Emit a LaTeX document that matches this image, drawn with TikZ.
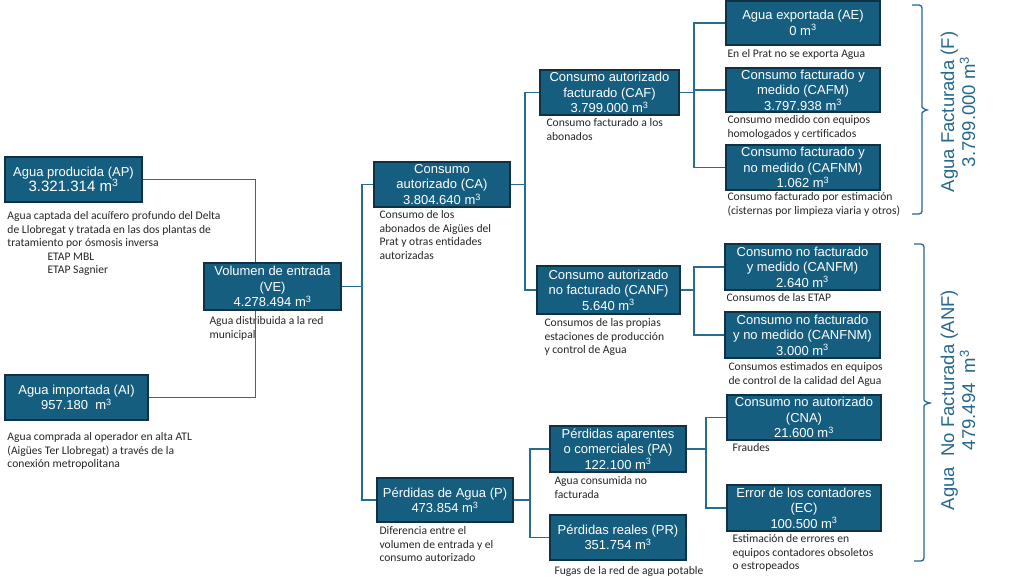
\documentclass[tikz,border=0pt]{standalone}
\usepackage{fontspec}
\setmainfont{Liberation Sans}
\newfontfamily\descfont{Carlito}
\usepackage{xcolor}
\usetikzlibrary{positioning}

\definecolor{boxfill}{RGB}{22,94,128}
\definecolor{boxline}{RGB}{16,48,68}
\definecolor{linkcol}{RGB}{40,108,145}
\definecolor{bracecol}{RGB}{36,104,142}

\newcommand{\mcub}{m\textsuperscript{3}}

\begin{document}
\begin{tikzpicture}[x=1pt,y=-1pt,node distance=6pt]
    % looks of the boxes, notes and links
    \tikzstyle{box}=[rectangle,draw=boxline,line width=1.4pt,fill=boxfill,
    text=white,align=center,inner sep=0pt,font=\fontsize{13}{15.4}\selectfont]
    \tikzstyle{note}=[inner sep=0pt,align=left,text=black!85,
    font=\descfont\fontsize{11.6}{13.4}\selectfont]
    \tikzstyle{link}=[draw=linkcol,line width=1.3pt]
    \tikzstyle{brc}=[draw=bracecol,line width=1.3pt]
    \tikzstyle{total}=[rotate=90,align=center,text=bracecol,inner sep=0pt,
    font=\fontsize{18.5}{21}\selectfont]

    \useasboundingbox (0,0) rectangle (1013,585);

    % sources
    \node [box,minimum width=137,minimum height=45] (ap) at (73.5,179.5)
      {Agua producida (AP)\\{\fontsize{15}{16.5}\selectfont 3.321.314 \mcub}};
    \node [box,minimum width=143,minimum height=45] (ai) at (76.5,397.5)
      {Agua importada (AI)\\957.180~~\mcub};
    \node [box,minimum width=137,minimum height=47] (ve) at (272.5,286.5)
      {Volumen de entrada\\(VE)\\4.278.494 \mcub};

    % authorised consumption
    \node [box,minimum width=136,minimum height=45] (ca) at (442,184.5)
      {Consumo\\autorizado (CA)\\3.804.640 \mcub};
    \node [box,minimum width=139,minimum height=45] (caf) at (609.5,92.5)
      {Consumo autorizado\\facturado (CAF)\\3.799.000 \mcub};
    \node [box,minimum width=143,minimum height=48] (canf) at (608.5,290)
      {Consumo autorizado\\no facturado (CANF)\\5.640 \mcub};
    \node [box,minimum width=154,minimum height=44] (ae) at (803,23)
      {Agua exportada (AE)\\0 \mcub};
    \node [box,minimum width=154,minimum height=44] (cafm) at (803,90)
      {Consumo facturado y\\medido (CAFM)\\3.797.938 \mcub};
    \node [box,minimum width=154,minimum height=45] (cafnm) at (803,167.5)
      {Consumo facturado y\\no medido (CAFNM)\\1.062 \mcub};
    \node [box,minimum width=155,minimum height=46] (canfm) at (802.5,267)
      {Consumo no facturado\\y medido (CANFM)\\2.640 \mcub};
    \node [box,minimum width=155,minimum height=46] (canfnm) at (802.5,335)
      {Consumo no facturado\\y no medido (CANFNM)\\3.000 \mcub};

    % losses
    \node [box,minimum width=136,minimum height=44] (p) at (445,500)
      {P\'erdidas de Agua (P)\\473.854 \mcub};
    \node [box,minimum width=136,minimum height=46] (pa) at (618,449)
      {P\'erdidas aparentes\\o comerciales (PA)\\122.100 \mcub};
    \node [box,minimum width=136,minimum height=45] (pr) at (618,537.5)
      {P\'erdidas reales (PR)\\351.754 \mcub};
    \node [box,minimum width=154,minimum height=45] (cna) at (804,417.5)
      {Consumo no autorizado\\(CNA)\\21.600 \mcub};
    \node [box,minimum width=154,minimum height=46] (ec) at (804,508)
      {Error de los contadores\\(EC)\\100.500 \mcub};

    % notes under the boxes
    \node [note,below right=9pt and 3pt of ap.south west] (apnote)
      {Agua captada del acu\'ifero profundo del Delta\\
       de Llobregat y tratada en las dos plantas de\\
       tratamiento por \'osmosis inversa\\
       \hspace*{40pt}ETAP MBL\\
       \hspace*{40pt}ETAP Sagnier};
    \node [note,below right=6pt and 6pt of ve.south west] (venote)
      {Agua distribuida a la red\\municipal};
    \node [note,below right=12pt and 3pt of ai.south west] (ainote)
      {Agua comprada al operador en alta ATL\\
       (Aig\"ues Ter Llobregat) a trav\'es de la\\
       conexi\'on metropolitana};
    \node [note,below right=3pt and 6pt of ca.south west] (canote)
      {Consumo de los\\abonados de Aig\"ues del\\Prat y otras entidades\\autorizadas};
    \node [note,below right=3pt and 7pt of caf.south west] (cafnote)
      {Consumo facturado a los\\abonados};
    \node [note,below right=4pt and 8pt of canf.south west] (canfnote)
      {Consumos de las propias\\estaciones de producci\'on\\y control de Agua};
    \node [note,below right=4pt and 2pt of ae.south west] (aenote)
      {En el Prat no se exporta Agua};
    \node [note,below right=3pt and 2pt of cafm.south west] (cafmnote)
      {Consumo medido con equipos\\homologados y certificados};
    \node [note,below right=2pt and 2pt of cafnm.south west] (cafnmnote)
      {Consumo facturado por estimaci\'on\\(cisternas por limpieza viaria y otros)};
    \node [note,below right=3pt and 2pt of canfm.south west] (canfmnote)
      {Consumos de las ETAP};
    \node [note,below right=4pt and 4pt of canfnm.south west] (canfnmnote)
      {Consumos estimados en equipos\\de control de la calidad del Agua};
    \node [note,below right=4pt and 3pt of p.south west] (pnote)
      {Diferencia entre el\\volumen de entrada y el\\consumo autorizado};
    \node [note,below right=4pt and 5pt of pa.south west] (panote)
      {Agua consumida no\\facturada};
    \node [note,below right=6pt and 5pt of pr.south west] (prnote)
      {Fugas de la red de agua potable};
    \node [note,below right=3pt and 6pt of cna.south west] (cnanote)
      {Fraudes};
    \node [note,below right=3pt and 6pt of ec.south west] (ecnote)
      {Estimaci\'on de errores en\\equipos contadores obsoletos\\o estropeados};

    % junctions of the tree
    \coordinate (jve) at (362,286.5);
    \coordinate (jca) at (525,184.5);
    \coordinate (jcaf) at (694,92.5);
    \coordinate (jcanf) at (694,290);
    \coordinate (jp) at (530,500);
    \coordinate (jpa) at (706,449);

    \draw [link] (ap.east) -| ([xshift=-17pt]ve.north);
    \draw [link] (ai.east) -| ([xshift=-17pt]ve.south);
    \draw [link] (ve.east) -- (jve);
    \draw [link] (ca.west) -| (jve) |- (p.west);
    \draw [link] (ca.east) -- (jca);
    \draw [link] (caf.west) -| (jca) |- (canf.west);
    \draw [link] (caf.east) -- (jcaf);
    \draw [link] (ae.west) -| (jcaf) |- (cafnm.west);
    \draw [link] (cafm.west) -- (cafm.west -| jcaf);
    \draw [link] (canf.east) -- (jcanf);
    \draw [link] (canfm.west) -| (jcanf) |- (canfnm.west);
    \draw [link] (p.east) -- (jp);
    \draw [link] (pa.west) -| (jp) |- (pr.west);
    \draw [link] (pa.east) -- (jpa);
    \draw [link] (cna.west) -| (jpa) |- (ec.west);

    % braces with the totals
    \draw [brc,rounded corners=3pt] (912,5) -| (922,104)
      to[out=-90,in=180] (930,110) to[out=180,in=90] (922,116) |- (912,214);
    \draw [brc,rounded corners=3pt] (914,244) -| (924,397)
      to[out=-90,in=180] (933,403) to[out=180,in=90] (924,409) |- (914,561);
    \node [total] (ftot) at (958,112)
      {Agua Facturada (F)\\3.799.000 \mcub};
    \node [total] (anftot) at (958,400)
      {Agua~~No Facturada (ANF)\\479.494~~\mcub};
\end{tikzpicture}
\end{document}
